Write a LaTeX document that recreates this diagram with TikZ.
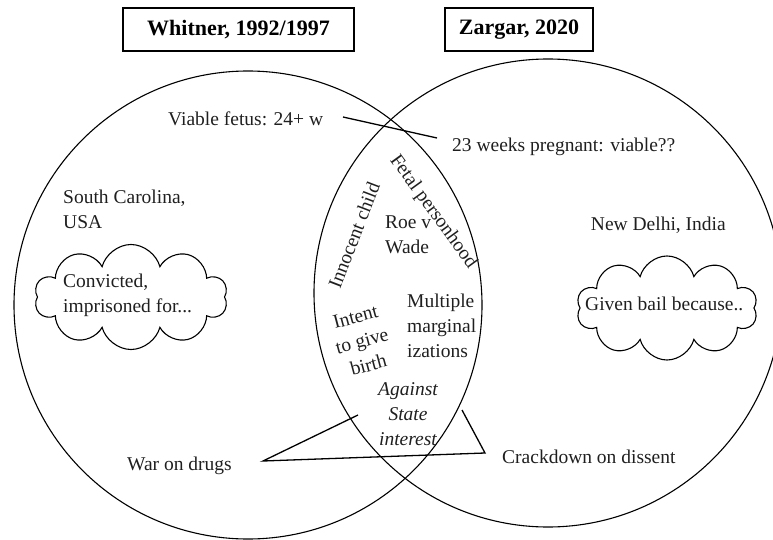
\documentclass[tikz,border=0pt]{standalone}
\usepackage{fontspec}
\setmainfont{Liberation Serif}
\usetikzlibrary{shapes.symbols}
\begin{document}
\begin{tikzpicture}[x=1pt,y=-1pt,
  lbl/.style={inner sep=0pt, text=black!88, font=\fontsize{19.5}{25}\selectfont},
  ttl/.style={draw, line width=1.2pt, inner sep=0pt, font=\fontsize{22}{26}\selectfont\bfseries},
  venn/.style={circle, draw, line width=1.1pt, inner sep=0pt, minimum size=468pt},
  conn/.style={line width=1.3pt},
  puff/.style={cloud, draw, cloud puffs=10, cloud ignores aspect, line width=1.1pt, inner sep=0pt}]
\useasboundingbox (0,0) rectangle (773,540);
% titles
\node[ttl, minimum width=231pt, minimum height=43pt] (tw) at (238.5,29.5) {Whitner, 1992/1997};
\node[ttl, minimum width=148pt, minimum height=43pt] (tz) at (519,29.5) {Zargar, 2020};
% circles
\node[venn] (lc) at (248,305) {};
\node[venn] (rc) at (548,293) {};
% clouds
\node[puff, minimum width=193pt, minimum height=105pt] (cl) at (131,297) {};
\node[puff, minimum width=181pt, minimum height=104pt] (cr) at (667,308) {};
% left texts
\node[lbl, anchor=base west] (vf) at (168,126) {Viable fetus: 24+ w};
\node[lbl, anchor=west, align=left] (sc) at (63,209) {South Carolina,\\USA};
\node[lbl, anchor=west, align=left] (cv) at (63,295) {Convicted,\\imprisoned for...};
\node[lbl, anchor=base west] (war) at (127,470) {War on drugs};
% right texts
\node[lbl, anchor=base west] (wk) at (452,152) {23 weeks pregnant: viable??};
\node[lbl, anchor=base east] (nd) at (726,230) {New Delhi, India};
\node[lbl, anchor=base west] (gb) at (585,310) {Given bail because..};
\node[lbl, anchor=base west] (cd) at (502,463) {Crackdown on dissent};
% lens texts
\node[lbl, rotate=-54] (fp) at (433,212) {Fetal personhood};
\node[lbl, rotate=69] (ic) at (354,235) {Innocent child};
\node[lbl, anchor=west, align=left] (rw) at (385,235) {Roe v\\Wade};
\node[lbl, anchor=west, align=left] (mm) at (407,326) {Multiple\\marginal\\izations};
\node[lbl, align=center, rotate=15] (ib) at (362,341) {Intent\\to give\\birth};
\node[lbl, align=center, font=\fontsize{19.5}{25}\selectfont\itshape] (as) at (408,414) {Against\\State\\interest};
% connectors
\coordinate (vfe) at (343,117);
\coordinate (wke) at (437,138);
\draw[conn] (vfe) -- (wke);
\coordinate (tl) at (263,461);
\coordinate (tla) at (358,415);
\coordinate (tr) at (485,453);
\coordinate (tra) at (462,410);
\draw[conn, line join=miter] (tla) -- (tl) -- (tr) -- (tra);
\end{tikzpicture}
\end{document}
